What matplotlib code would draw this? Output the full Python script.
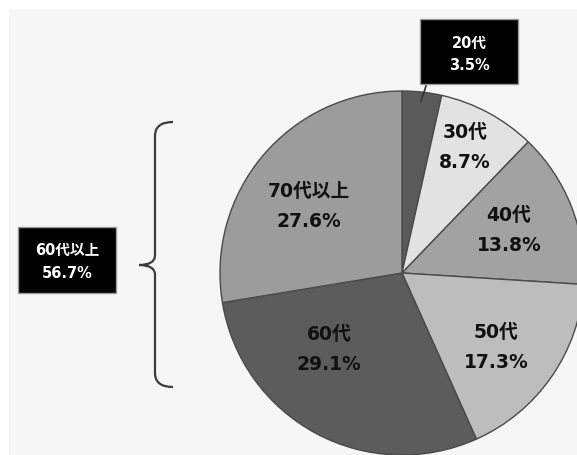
import matplotlib
matplotlib.use("Agg")
import matplotlib.pyplot as plt
from matplotlib.patches import Rectangle, PathPatch
from matplotlib.path import Path
import numpy as np

plt.rcParams['font.family'] = ['DejaVu Sans', 'Noto Sans CJK JP']

# Age-group shares (%), clockwise from the top
categories = ['20代', '30代', '40代', '50代', '60代', '70代以上']
shares = [3.5, 8.7, 13.8, 17.3, 29.1, 27.6]
colors = ['#5a5a5a', '#e2e2e2', '#a2a2a2', '#bdbdbd', '#5c5c5c', '#9c9c9c']

# Bracketed total for the older groups
group_label = '60代以上'
group_share = 56.7

W, H = 577, 455
fig = plt.figure(figsize=(W / 100, H / 100), dpi=100)
fig.patch.set_facecolor('white')
ax = fig.add_axes([0, 0, 1, 1])

# light panel behind the chart
ax.add_patch(Rectangle((9, 9), W - 9, H - 9, facecolor='#f6f6f6', edgecolor='none', zorder=0))

cx, cy, R = 402, 273, 182
wedges, _ = ax.pie(shares, colors=colors, startangle=-90, counterclock=True,
                   center=(cx, cy), radius=R,
                   wedgeprops=dict(edgecolor='#4a4a4a', linewidth=1.0))
for w in wedges:
    w.set_zorder(2)

ax.set_xlim(0, W)
ax.set_ylim(H, 0)
ax.set_aspect('equal')
ax.axis('off')

# in-slice labels (offsets from the centre in radius units, x right / y up)
label_pos = {
    '30代': (0.346, 0.687),
    '40代': (0.588, 0.231),
    '50代': (0.516, -0.412),
    '60代': (-0.401, -0.423),
    '70代以上': (-0.511, 0.368),
}
for cat, val in zip(categories, shares):
    if cat not in label_pos:
        continue
    ux, uy = label_pos[cat]
    x, y = cx + ux * R, cy - uy * R
    ax.text(x, y - 15, cat, ha='center', va='center', fontsize=13.5,
            fontweight='bold', color='#111111', zorder=5)
    ax.text(x, y + 15, f'{val:.1f}%', ha='center', va='center', fontsize=13.5,
            fontweight='bold', color='#111111', zorder=5)

# callout box for the smallest slice
bx, by, bw, bh = 420, 19, 98, 65
ax.add_patch(Rectangle((bx, by), bw, bh, facecolor='black', edgecolor='#9a9a9a',
                       linewidth=1, zorder=6))
ax.text(bx + bw / 2, by + 24, categories[0], ha='center', va='center', fontsize=10.5,
        fontweight='bold', color='white', zorder=7)
ax.text(bx + bw / 2, by + 46, f'{shares[0]:.1f}%', ha='center', va='center', fontsize=10.5,
        fontweight='bold', color='white', zorder=7)
w0 = wedges[0]
mid = np.deg2rad((w0.theta1 + w0.theta2) / 2)
px, py = cx + 0.95 * R * np.cos(mid), cy + 0.95 * R * np.sin(mid)
ax.plot([px, bx + 6], [py, by + bh + 2], color='#333333', linewidth=1.2, zorder=6)

# group box and curly brace
gx, gy, gw, gh = 18, 227, 98, 66
ax.add_patch(Rectangle((gx, gy), gw, gh, facecolor='black', edgecolor='#9a9a9a',
                       linewidth=1, zorder=6))
ax.text(gx + gw / 2, gy + 23, group_label, ha='center', va='center', fontsize=10.5,
        fontweight='bold', color='white', zorder=7)
ax.text(gx + gw / 2, gy + 46, f'{group_share:.1f}%', ha='center', va='center', fontsize=10.5,
        fontweight='bold', color='white', zorder=7)

top, bot, xs, tipx, tipy, endx = 122, 387, 155, 139, 265, 173
verts = [(endx, top), (xs, top), (xs, top + 14),
         (xs, tipy - 10),
         (xs, tipy), (tipx, tipy),
         (xs, tipy), (xs, tipy + 10),
         (xs, bot - 14),
         (xs, bot), (endx, bot)]
codes = [Path.MOVETO, Path.CURVE3, Path.CURVE3,
         Path.LINETO,
         Path.CURVE3, Path.CURVE3,
         Path.CURVE3, Path.CURVE3,
         Path.LINETO,
         Path.CURVE3, Path.CURVE3]
ax.add_patch(PathPatch(Path(verts, codes), facecolor='none', edgecolor='#3c3c3c',
                       linewidth=1.6, zorder=4))

fig.savefig('out.png', dpi=100, facecolor=fig.get_facecolor())
